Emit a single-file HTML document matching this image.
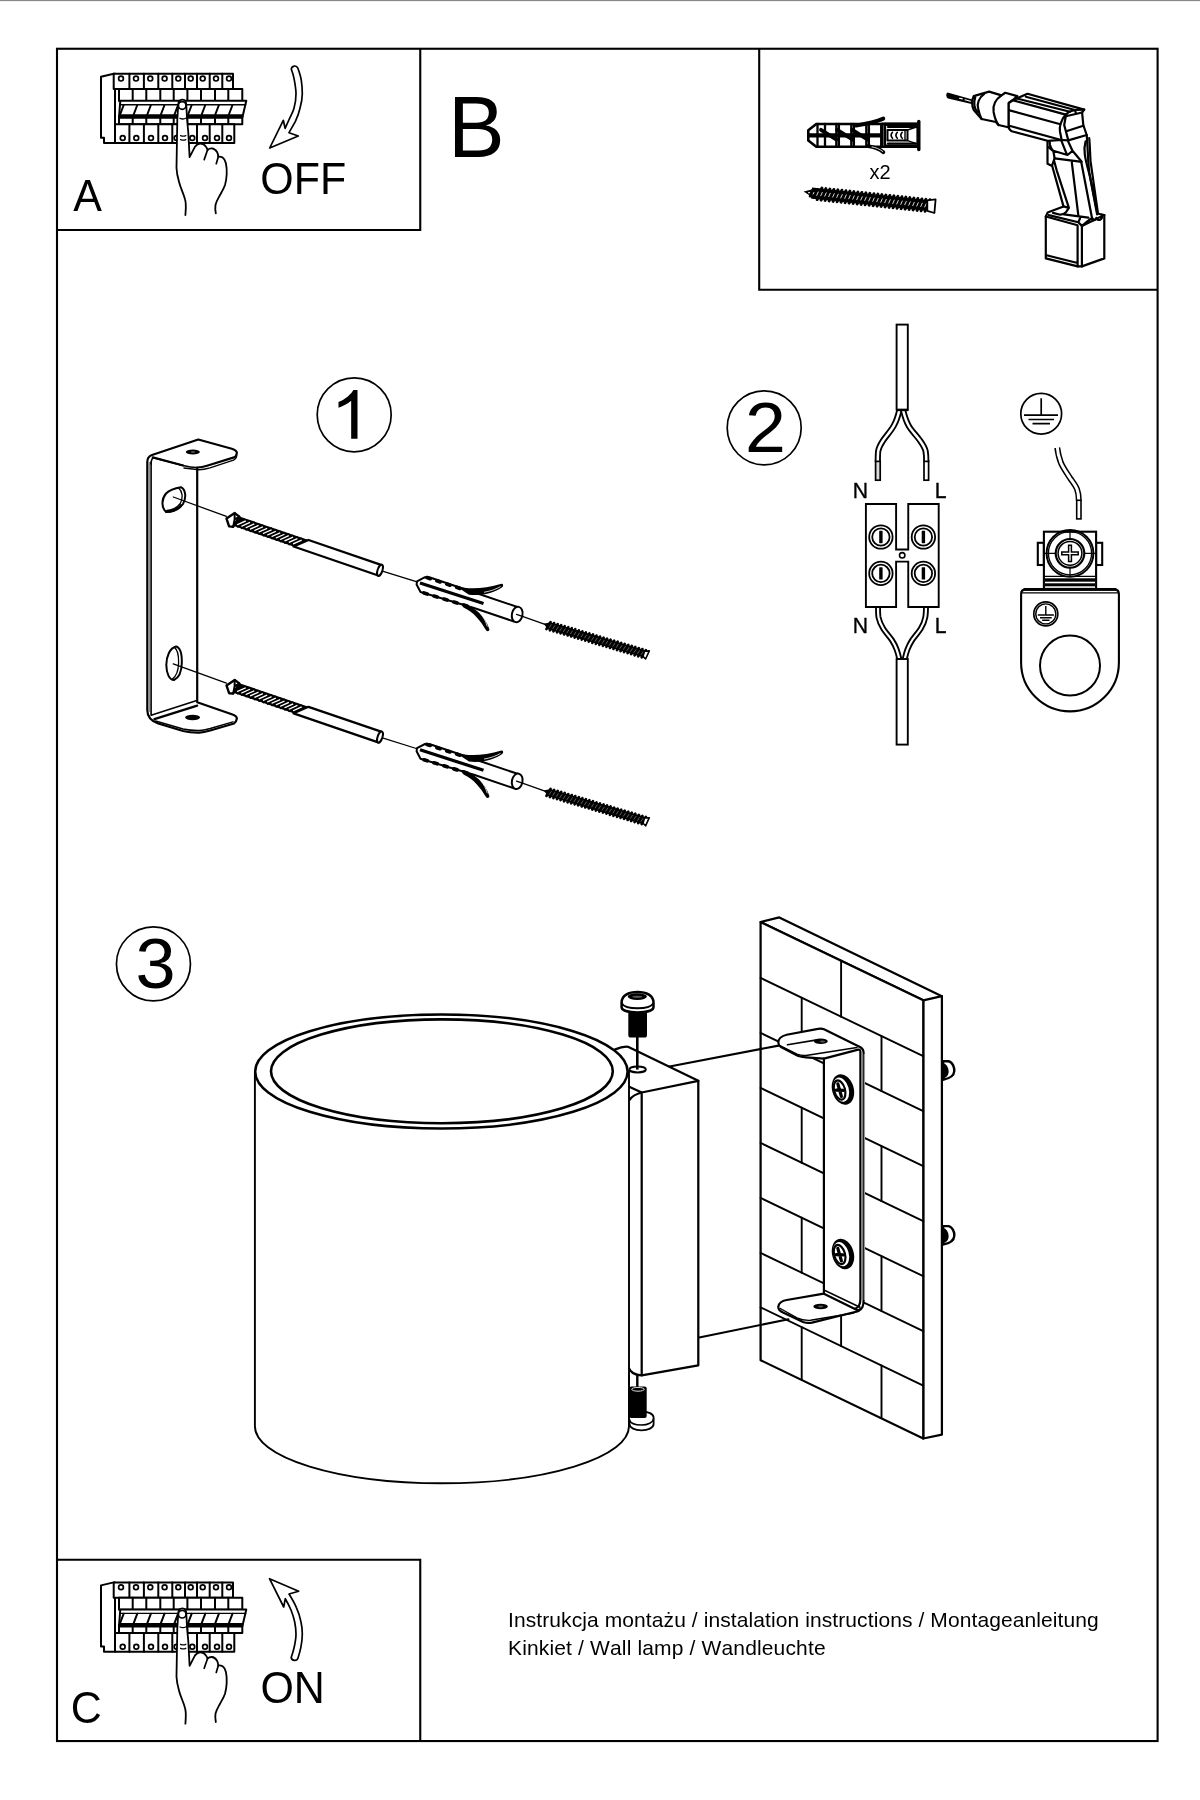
<!DOCTYPE html>
<html><head><meta charset="utf-8">
<style>
html,body{margin:0;padding:0;background:#fff;}
body{width:1200px;height:1800px;overflow:hidden;position:relative;font-family:"Liberation Sans",sans-serif;}
svg{position:absolute;left:0;top:0;will-change:transform;}
text{font-family:"Liberation Sans",sans-serif;fill:#000;font-kerning:none;}
.s{fill:none;stroke:#000;stroke-width:2;stroke-linejoin:round;stroke-linecap:round;}
.t{fill:none;stroke:#000;stroke-width:1.3;stroke-linejoin:round;stroke-linecap:round;}
.w{fill:#fff;stroke:#000;stroke-width:2;stroke-linejoin:round;stroke-linecap:round;}
.wt{fill:#fff;stroke:#000;stroke-width:1.3;stroke-linejoin:round;stroke-linecap:round;}
.k{fill:#000;stroke:none;}
</style></head><body>
<svg width="1200" height="1800" viewBox="0 0 1200 1800">
<rect x="0" y="0" width="1200" height="1800" fill="#fff"/>
<rect x="0" y="0" width="1200" height="1" fill="#84888a"/><rect x="0" y="1" width="1200" height="1" fill="#f1f1f1"/>
<!-- FRAME -->
<g id="frame" class="s" style="stroke-width:2.1;stroke-linejoin:miter;stroke-linecap:butt">
<rect x="57" y="48.75" width="1100.6" height="1692.3"/>
<path d="M57 230H420.25V48.75"/>
<path d="M759.2 48.75V289.75H1157.6"/>
<path d="M57 1559.75H420.25V1741"/>
</g>
<!-- TEXT -->
<g id="labels">
<text id="t1" letter-spacing="0.093" x="508" y="1626.5" font-size="21">Instrukcja montażu / instalation instructions / Montageanleitung</text>
<text id="t2" letter-spacing="0.15" x="508" y="1654.7" font-size="21">Kinkiet / Wall lamp / Wandleuchte</text>
</g>
<!--SECTION_A-->
<defs><g id="brk">
<path class="w" style="stroke-width:2" d="M113.7 73.7L101 76.7V137.7H104V143H115V73.7Z"/>
<rect class="w" style="stroke-width:2" x="113.7" y="73.7" width="119.3" height="15.3"/>
<path class="s" style="stroke-width:2" d="M129.4 73.7V89"/>
<path class="s" style="stroke-width:2" d="M143.9 73.7V89"/>
<path class="s" style="stroke-width:2" d="M158.3 73.7V89"/>
<path class="s" style="stroke-width:2" d="M172.3 73.7V89"/>
<path class="s" style="stroke-width:2" d="M185 73.7V89"/>
<path class="s" style="stroke-width:2" d="M197 73.7V89"/>
<path class="s" style="stroke-width:2" d="M209.7 73.7V89"/>
<path class="s" style="stroke-width:2" d="M222.3 73.7V89"/>
<circle class="s" style="stroke-width:1.7" cx="121" cy="78.6" r="2.4"/>
<circle class="s" style="stroke-width:1.7" cx="136" cy="78.6" r="2.4"/>
<circle class="s" style="stroke-width:1.7" cx="150.3" cy="78.6" r="2.4"/>
<circle class="s" style="stroke-width:1.7" cx="164.6" cy="78.6" r="2.4"/>
<circle class="s" style="stroke-width:1.7" cx="178.3" cy="78.6" r="2.4"/>
<circle class="s" style="stroke-width:1.7" cx="190.7" cy="78.6" r="2.4"/>
<circle class="s" style="stroke-width:1.7" cx="202.7" cy="78.6" r="2.4"/>
<circle class="s" style="stroke-width:1.7" cx="216" cy="78.6" r="2.4"/>
<circle class="s" style="stroke-width:1.7" cx="229" cy="78.6" r="2.4"/>
<rect class="w" style="stroke-width:2" x="119" y="89" width="123.3" height="12"/>
<path class="s" style="stroke-width:2" d="M132.7 89V101"/>
<path class="s" style="stroke-width:2" d="M146.3 89V101"/>
<path class="s" style="stroke-width:2" d="M160.3 89V101"/>
<path class="s" style="stroke-width:2" d="M173.7 89V101"/>
<path class="s" style="stroke-width:2" d="M187.4 89V101"/>
<path class="s" style="stroke-width:2" d="M201 89V101"/>
<path class="s" style="stroke-width:2" d="M215 89V101"/>
<path class="s" style="stroke-width:2" d="M228.3 89V101"/>
<rect class="w" style="stroke-width:2" x="119" y="116" width="123.3" height="8.3"/>
<path class="s" style="stroke-width:2" d="M132.7 116V124.3"/>
<path class="s" style="stroke-width:2" d="M146.3 116V124.3"/>
<path class="s" style="stroke-width:2" d="M160.3 116V124.3"/>
<path class="s" style="stroke-width:2" d="M173.7 116V124.3"/>
<path class="s" style="stroke-width:2" d="M187.4 116V124.3"/>
<path class="s" style="stroke-width:2" d="M201 116V124.3"/>
<path class="s" style="stroke-width:2" d="M215 116V124.3"/>
<path class="s" style="stroke-width:2" d="M228.3 116V124.3"/>
<rect class="w" style="stroke-width:2" x="115" y="124.3" width="119.3" height="18.7"/>
<path class="s" style="stroke-width:2" d="M129.4 124.3V143"/>
<path class="s" style="stroke-width:2" d="M143.9 124.3V143"/>
<path class="s" style="stroke-width:2" d="M158.3 124.3V143"/>
<path class="s" style="stroke-width:2" d="M172.3 124.3V143"/>
<path class="s" style="stroke-width:2" d="M186.5 124.3V143"/>
<path class="s" style="stroke-width:2" d="M197 124.3V143"/>
<path class="s" style="stroke-width:2" d="M209.7 124.3V143"/>
<path class="s" style="stroke-width:2" d="M222.3 124.3V143"/>
<circle class="s" style="stroke-width:1.7" cx="122.7" cy="138" r="2.4"/>
<circle class="s" style="stroke-width:1.7" cx="136.3" cy="138" r="2.4"/>
<circle class="s" style="stroke-width:1.7" cx="151" cy="138" r="2.4"/>
<circle class="s" style="stroke-width:1.7" cx="165" cy="138" r="2.4"/>
<circle class="s" style="stroke-width:1.7" cx="176.6" cy="138" r="2.4"/>
<circle class="s" style="stroke-width:1.7" cx="192.3" cy="138" r="2.4"/>
<circle class="s" style="stroke-width:1.7" cx="205" cy="138" r="2.4"/>
<circle class="s" style="stroke-width:1.7" cx="217" cy="138" r="2.4"/>
<circle class="s" style="stroke-width:1.7" cx="229" cy="138" r="2.4"/>
<path class="w" style="stroke-width:2" d="M120.3 100.8H246.3L242.3 117.7H119Z"/>
<path class="s" style="stroke-width:1.4" d="M120.8 104.7H245.6"/>
<path class="k" d="M119 114.2H243.3L242.3 118H119Z"/>
<path class="s" style="stroke-width:2" d="M123.7 105L120.1 114.5"/>
<path class="s" style="stroke-width:2" d="M137.3 105L133.7 114.5"/>
<path class="s" style="stroke-width:2" d="M150.9 105L147.3 114.5"/>
<path class="s" style="stroke-width:2" d="M164.5 105L160.9 114.5"/>
<path class="s" style="stroke-width:2" d="M178.1 105L174.5 114.5"/>
<path class="s" style="stroke-width:2" d="M191.7 105L188.1 114.5"/>
<path class="s" style="stroke-width:2" d="M205.3 105L201.7 114.5"/>
<path class="s" style="stroke-width:2" d="M218.9 105L215.3 114.5"/>
<path class="s" style="stroke-width:2" d="M232.5 105L228.9 114.5"/>
</g>
<g id="hand">
<path class="w" style="stroke-width:1.8" d="M185.4 215C185.8 208 186.5 204 185 199.2C183.5 193.5 180.6 188 179.2 182.5C177.6 177 176.7 174 176.5 168L177.3 120L178.2 105C178.3 101.5 180 99.6 182.4 99.6C184.8 99.6 186.2 101.5 186.3 105L187.1 120L188.3 132.5L189.6 157.1L195 146.7C196.6 144.6 198.3 143.6 200.5 143.7C203.2 143.9 204.8 145 206 146.8C206.8 147.9 207.3 148.9 207.5 150C208.8 148.7 210.2 148.2 211.9 148.3C214.2 148.5 215.8 150 216.9 151.8C217.8 153.3 218.2 155 218.3 156.7C219.8 156.5 221.3 156.8 222.6 157.6C224.6 159 225.4 161 225.9 163.3C226.7 167 226.9 170.5 226.7 174.2C226.5 178 226 181.6 225 185C223.8 188.6 221.8 191.8 220 195C218.2 198.3 216.2 201.4 215.5 205C215 207.8 215.3 210.6 215.8 213.3" />
<path class="s" style="stroke-width:1.7" d="M207.5 150L204.2 159.6M218.3 156.7L216.25 163.75"/>
<circle class="w" style="stroke-width:1.7" cx="182.2" cy="105.5" r="3.8"/>
<path class="s" style="stroke-width:1.3" d="M180 118.3Q183.3 119.8 186.2 118"/>
<path class="s" style="stroke-width:1.3" d="M180.6 135.6Q183.3 136.8 185.8 135.6M180.6 139.6Q183.3 140.8 185.8 139.6"/>
</g></defs>
<g id="secA">
<use href="#brk"/><use href="#hand"/>
<path class="w" style="stroke-width:1.7" d="M291.3 69.2C292.5 72.3 293.5 75.2 294 78.3C295 83.4 296 88.5 296 93.7C296 98.7 295.4 103.5 294 108.3C292.9 112 291 115.6 289.3 119L285.1 128.3L283.3 120.3L269.7 148L298.3 136L289 132.7L295.3 121.7C297.3 117.4 299 112.9 300 108.3C301.3 103.5 302.3 98.7 302.3 93.7C302.3 89.2 302 84.7 301.3 80.3C300.6 75.8 299.2 71.9 297.9 68.3A3.4 3.4 0 0 0 291.3 69.2Z"/>
<text transform="translate(73.13 210.93) scale(0.963 1)" font-size="44.6">A</text>
<text transform="translate(260.28 194.1) scale(0.963 1)" font-size="44.6">OFF</text>
<text transform="translate(447.9 157.0) scale(0.97 1)" font-size="87.6">B</text>
</g>
<g id="secC">
<use href="#brk" transform="translate(0,1508.7)"/><use href="#hand" transform="translate(0,1508.7)"/>
<path class="w" style="stroke-width:1.7" d="M269.5 1578.7L298.7 1591.2L289 1594C291.7 1598.3 294.3 1602.7 296.3 1607.3C298.5 1612 300 1617 301 1622C301.9 1626 302.3 1630 302.3 1634C302.3 1638.3 301.8 1642.5 301 1646.7C300.3 1650.5 299.2 1654.3 298 1658A3.5 3.5 0 0 1 291.2 1657.5C292.4 1654 293.5 1650.4 294.3 1646.7C295.2 1642.5 296 1638.3 296 1634C296 1630 295.5 1626 294.7 1622C293.8 1618 292.6 1613.9 291 1610C289.4 1606.1 287.4 1602.3 285.3 1598.7L283.7 1607Z"/>
<text transform="translate(70.86 1722.6) scale(0.963 1)" font-size="44.6">C</text>
<text transform="translate(260.43 1702.84) scale(0.963 1)" font-size="44.6">ON</text>
</g>
<!--SECTION_TOOLS-->
<g id="secT">
<g id="plug">
<path class="w" style="stroke-width:2.6" d="M808.3 130.3L816.3 124H882.5V146.8H816.3L808.3 140.5Z"/>
<path class="s" style="stroke-width:3.9" d="M856 125.6C866 124 874 122.7 883.3 118.6"/>
<path class="s" style="stroke-width:3.8" d="M868 146.2C874 147 879 148.8 883.4 152.2"/>
<path d="M872 146.9C876 147.6 879.5 149 882.8 151.5" fill="none" stroke="#fff" stroke-width="0.85" stroke-linecap="round"/>
<rect class="w" style="stroke-width:2.2" x="882.5" y="123.6" width="35" height="23.4"/>
<path class="s" style="stroke-width:3.2" d="M885 124.4H917M885 146.2H917"/>
<path class="s" style="stroke-width:3.4" d="M918.8 121.5V149.5"/>
<rect class="w" style="stroke-width:2" x="887.5" y="130" width="20" height="10.6"/>
<path class="s" style="stroke-width:1.4" d="M907.5 130L916.5 127M907.5 140.6L916.5 143.6M905 130V140.6"/>
<path class="s" style="stroke-width:1.6" d="M892.5 132.3Q889.7 135.3 892.5 138.3M897.3 132.3Q894.5 135.3 897.3 138.3M902.2 132.3Q899.4 135.3 902.2 138.3"/>
<path class="s" style="stroke-width:2.2" d="M888 127H916M888 143.6H916" />
<path class="s" style="stroke-width:2.3" d="M817.5 124V146.8M825 124V146.8"/>
<path class="s" style="stroke-width:2.3" d="M836.3 124V146.8M838.9 124V146.8"/>
<path class="s" style="stroke-width:2.3" d="M851.3 124V146.8M853.9 124V146.8"/>
<path class="s" style="stroke-width:2.3" d="M866.3 124V146.8M868.9 124V146.8"/>
<path class="s" style="stroke-width:2.3" d="M881.2 124V146.8M885 124V146.8"/>
<path class="s" style="stroke-width:4.2;stroke-linecap:butt" d="M809 135.3H880.5"/>
<path class="s" style="stroke-width:3.8" d="M821.0 129.8L836.5 139.6"/>
<path class="s" style="stroke-width:3.8" d="M837.2 129.8L852.7 139.6"/>
<path class="s" style="stroke-width:3.8" d="M852.2 129.8L867.7 139.6"/>
</g>
<text x="869.54" y="178.9" font-size="20">x2</text>
<g id="screw">
<path class="k" d="M803.6 191.6L811.8 189.4L811.1 196.6Z"/>
<path d="M808.2 192.6L811.8 193" stroke="#fff" stroke-width="1.2" fill="none"/>
<path d="M811.5 193.0L927.5 205.5" stroke="#000" stroke-width="11.2" fill="none"/>
<path d="M812.8 189.9L810.2 196.1" stroke="#000" stroke-width="2.9" stroke-linecap="round" fill="none"/>
<path d="M817.2 189.4L813.8 197.5" stroke="#000" stroke-width="2.9" stroke-linecap="round" fill="none"/>
<path d="M821.9 188.1L817.1 199.6" stroke="#000" stroke-width="2.9" stroke-linecap="round" fill="none"/>
<path d="M825.9 188.5L821.1 200.1" stroke="#000" stroke-width="2.9" stroke-linecap="round" fill="none"/>
<path d="M829.9 189.0L825.1 200.5" stroke="#000" stroke-width="2.9" stroke-linecap="round" fill="none"/>
<path d="M833.9 189.4L829.1 200.9" stroke="#000" stroke-width="2.9" stroke-linecap="round" fill="none"/>
<path d="M837.9 189.8L833.1 201.4" stroke="#000" stroke-width="2.9" stroke-linecap="round" fill="none"/>
<path d="M841.9 190.2L837.1 201.8" stroke="#000" stroke-width="2.9" stroke-linecap="round" fill="none"/>
<path d="M845.9 190.7L841.1 202.2" stroke="#000" stroke-width="2.9" stroke-linecap="round" fill="none"/>
<path d="M849.9 191.1L845.1 202.7" stroke="#000" stroke-width="2.9" stroke-linecap="round" fill="none"/>
<path d="M853.9 191.5L849.1 203.1" stroke="#000" stroke-width="2.9" stroke-linecap="round" fill="none"/>
<path d="M857.9 192.0L853.1 203.5" stroke="#000" stroke-width="2.9" stroke-linecap="round" fill="none"/>
<path d="M861.9 192.4L857.1 203.9" stroke="#000" stroke-width="2.9" stroke-linecap="round" fill="none"/>
<path d="M865.9 192.8L861.1 204.4" stroke="#000" stroke-width="2.9" stroke-linecap="round" fill="none"/>
<path d="M869.9 193.3L865.1 204.8" stroke="#000" stroke-width="2.9" stroke-linecap="round" fill="none"/>
<path d="M873.9 193.7L869.1 205.2" stroke="#000" stroke-width="2.9" stroke-linecap="round" fill="none"/>
<path d="M877.9 194.1L873.1 205.7" stroke="#000" stroke-width="2.9" stroke-linecap="round" fill="none"/>
<path d="M881.9 194.6L877.1 206.1" stroke="#000" stroke-width="2.9" stroke-linecap="round" fill="none"/>
<path d="M885.9 195.0L881.1 206.5" stroke="#000" stroke-width="2.9" stroke-linecap="round" fill="none"/>
<path d="M889.9 195.4L885.1 207.0" stroke="#000" stroke-width="2.9" stroke-linecap="round" fill="none"/>
<path d="M893.9 195.8L889.1 207.4" stroke="#000" stroke-width="2.9" stroke-linecap="round" fill="none"/>
<path d="M897.9 196.3L893.1 207.8" stroke="#000" stroke-width="2.9" stroke-linecap="round" fill="none"/>
<path d="M901.9 196.7L897.1 208.3" stroke="#000" stroke-width="2.9" stroke-linecap="round" fill="none"/>
<path d="M905.9 197.1L901.1 208.7" stroke="#000" stroke-width="2.9" stroke-linecap="round" fill="none"/>
<path d="M909.9 197.6L905.1 209.1" stroke="#000" stroke-width="2.9" stroke-linecap="round" fill="none"/>
<path d="M913.9 198.0L909.1 209.5" stroke="#000" stroke-width="2.9" stroke-linecap="round" fill="none"/>
<path d="M917.9 198.4L913.1 210.0" stroke="#000" stroke-width="2.9" stroke-linecap="round" fill="none"/>
<path d="M921.9 198.9L917.1 210.4" stroke="#000" stroke-width="2.9" stroke-linecap="round" fill="none"/>
<path d="M925.9 199.3L921.1 210.8" stroke="#000" stroke-width="2.9" stroke-linecap="round" fill="none"/>
<path d="M929.9 199.7L925.1 211.3" stroke="#000" stroke-width="2.9" stroke-linecap="round" fill="none"/>
<path d="M814.0 192.1L813.0 194.4" stroke="#fff" stroke-width="0.85" fill="none"/>
<path d="M818.4 191.6L816.6 195.7" stroke="#fff" stroke-width="0.85" fill="none"/>
<path d="M822.4 192.1L820.6 196.1" stroke="#fff" stroke-width="0.85" fill="none"/>
<path d="M826.4 192.5L824.6 196.5" stroke="#fff" stroke-width="0.85" fill="none"/>
<path d="M830.4 192.9L828.6 197.0" stroke="#fff" stroke-width="0.85" fill="none"/>
<path d="M834.4 193.4L832.6 197.4" stroke="#fff" stroke-width="0.85" fill="none"/>
<path d="M838.4 193.8L836.6 197.8" stroke="#fff" stroke-width="0.85" fill="none"/>
<path d="M842.4 194.2L840.6 198.3" stroke="#fff" stroke-width="0.85" fill="none"/>
<path d="M846.4 194.6L844.6 198.7" stroke="#fff" stroke-width="0.85" fill="none"/>
<path d="M850.4 195.1L848.6 199.1" stroke="#fff" stroke-width="0.85" fill="none"/>
<path d="M854.4 195.5L852.6 199.5" stroke="#fff" stroke-width="0.85" fill="none"/>
<path d="M858.4 195.9L856.6 200.0" stroke="#fff" stroke-width="0.85" fill="none"/>
<path d="M862.4 196.4L860.6 200.4" stroke="#fff" stroke-width="0.85" fill="none"/>
<path d="M866.4 196.8L864.6 200.8" stroke="#fff" stroke-width="0.85" fill="none"/>
<path d="M870.4 197.2L868.6 201.3" stroke="#fff" stroke-width="0.85" fill="none"/>
<path d="M874.4 197.7L872.6 201.7" stroke="#fff" stroke-width="0.85" fill="none"/>
<path d="M878.4 198.1L876.6 202.1" stroke="#fff" stroke-width="0.85" fill="none"/>
<path d="M882.4 198.5L880.6 202.6" stroke="#fff" stroke-width="0.85" fill="none"/>
<path d="M886.4 199.0L884.6 203.0" stroke="#fff" stroke-width="0.85" fill="none"/>
<path d="M890.4 199.4L888.6 203.4" stroke="#fff" stroke-width="0.85" fill="none"/>
<path d="M894.4 199.8L892.6 203.9" stroke="#fff" stroke-width="0.85" fill="none"/>
<path d="M898.4 200.2L896.6 204.3" stroke="#fff" stroke-width="0.85" fill="none"/>
<path d="M902.4 200.7L900.6 204.7" stroke="#fff" stroke-width="0.85" fill="none"/>
<path d="M906.4 201.1L904.6 205.1" stroke="#fff" stroke-width="0.85" fill="none"/>
<path d="M910.4 201.5L908.6 205.6" stroke="#fff" stroke-width="0.85" fill="none"/>
<path d="M914.4 202.0L912.6 206.0" stroke="#fff" stroke-width="0.85" fill="none"/>
<path d="M918.4 202.4L916.6 206.4" stroke="#fff" stroke-width="0.85" fill="none"/>
<path d="M922.4 202.8L920.6 206.9" stroke="#fff" stroke-width="0.85" fill="none"/>
<path d="M926.4 203.3L924.6 207.3" stroke="#fff" stroke-width="0.85" fill="none"/>
<path class="w" style="stroke-width:1.8" d="M927.3 200.3L935.6 199.4L934.4 213L927.3 210.8Z"/>
</g>
<g id="drill">
<path class="k" d="M947.6 92.6C945.6 93.4 945.9 97.6 948 98.6L971.5 104L972.3 99.6Z"/>
<path d="M959.5 98.2L962.3 98.9M965 99.7L970.5 101.3" stroke="#fff" stroke-width="1.1" fill="none" stroke-linecap="round"/>
<path class="w" style="stroke-width:2.2" d="M1047.5 137.5V163.8L1052.2 166L1063.5 206.4L1047.6 212.6L1045.8 216.5V258.4L1077.6 266.4H1081.9L1104.3 258.4V215.1L1097.5 213.5L1089.9 176.1C1088 168 1088 150 1086.7 135L1070 120Z"/>
<path class="s" style="stroke-width:2.2" d="M1045.8 216.5L1077.6 225.2V266.4M1081.9 266.4V225.9L1104.3 215.1M1046.5 255.2L1077.6 263"/>
<path class="s" style="stroke-width:2.2" d="M1048.7 215.1L1078.3 222.3L1081.9 225.9M1078.3 222.3L1080 218.5M1081.9 225.9L1089.9 219.4C1091 218.8 1091.8 218.6 1092.8 218.7M1063.9 214.3L1088.4 217.6"/>
<path class="s" style="stroke-width:2.2" d="M1092 218L1092.8 219.7C1094.5 220.6 1096 219.8 1096.4 217.8C1097 219.5 1098.6 220.6 1100.4 219.6C1101.8 218.7 1102.3 217.2 1101.9 215.4"/>
<path class="s" style="stroke-width:2.2" d="M1054.1 160.9L1056.7 170.3L1068.9 207.9L1066 212.2C1064.5 213.8 1062.5 214.6 1060.3 214.7L1053 212.9M1063.5 206.4L1068.9 207.9"/>
<path class="s" style="stroke-width:2.2" d="M1071.8 162.4L1078.3 215.1M1081.2 161.7L1092 218M1054.6 158.3L1080 161.7"/>
<path class="s" style="stroke-width:2.2" d="M1085.6 141.4C1084.3 146 1084.2 150 1084.8 154.4C1085.8 162 1088 169 1089.9 176.1L1097.1 214.4M1089.2 138C1090 146 1090 154 1090.6 161.7L1097.8 212.2"/>
<path class="s" style="stroke-width:2.2" d="M1049.2 138.3L1050 145C1050.6 147.5 1051.7 149.3 1053.3 150.8L1067.5 155L1072.5 150.8L1068.3 141.7M1061.25 140.4L1066.7 154.2M1053.3 150.8L1054.6 158.3L1052 165.6M1072.5 150.8L1081.7 161.7M1048.7 147.2L1052.4 150.5"/>
<path class="w" style="stroke-width:2.2" d="M973.75 96.1L989.1 91.6L1001.5 95.4L1005.25 92.75L1017.25 96.1L1013 100L1008.75 103V126.7L1008.25 127.25L998.5 125L995.9 122L981.6 119L973.75 110C971.6 106 971.6 100 973.75 96.1Z"/>
<path class="s" style="stroke-width:2.2" d="M984.25 93.9C979 97.5 976.5 104 978.25 109C979 113 980 116 981.6 119M975.2 97.5C973.5 102 974 107 977 112"/>
<path class="s" style="stroke-width:2.2" d="M1001.5 95.4C995.5 99.5 992.5 105 993.6 112C994.5 117 996 121.5 998.5 125"/>
<path class="w" style="stroke-width:2.2" d="M1008.75 103L1013.3 100L1027.5 93.75L1084.2 109.6L1082.1 112.5L1083.3 125L1086.7 135L1068.3 140.4L1061.7 140L1047.5 140.8L1011.7 131.25C1009.6 130 1008.75 128.5 1008.75 126.7Z"/>
<path class="s" style="stroke-width:2.2" d="M1025.8 96.7L1075 110M1017.9 98.75L1070 111.7M1013.3 100.4L1065.8 114.6M1009.6 110.4L1060.4 124.2M1009.2 125.8L1061.25 140"/>
<path class="s" style="stroke-width:2.2" d="M1065.8 114.6L1069.2 111.7L1075 110L1084.2 109.6M1065.8 116.25L1082.1 112.5M1066.25 131.25L1083.3 125.8M1075 110L1076 113.6"/>
<path class="s" style="stroke-width:2.2" d="M1065.8 114.6C1063 117.5 1061.5 120.5 1060.4 124.2C1059.6 127 1059.7 129.5 1060 131.7L1061.7 140M1065.8 116.25L1064.2 125L1068.3 140.4"/>
</g>
</g>
<!--SECTION_1-->
<g id="sec1">
<circle class="s" style="stroke-width:1.7" cx="354.2" cy="414.8" r="37"/>
<path class="k" transform="translate(330.65 438.75) scale(0.0352 -0.033203)" d="M763 0H583V1147Q518 1085 412.500 1023Q307 961 223 930V1104Q374 1175 487 1276Q600 1377 647 1472H763Z"/>
<g id="bracket">
<path class="w" style="stroke-width:2.2" d="M147.3 462C147.3 458 149 456 152 455L198.3 439.5L231.8 448.7C235.5 449.8 237.3 451.5 236.7 453.6C236.4 455.5 235.5 456.8 234 457.4L207 465.8C203 467 201.5 467.3 197.2 467.5V702.3L231.8 714.3C235.5 715.5 237.3 717 236.7 719.1C236.4 721.3 235.5 722.6 234 723.5L210.2 730.5C206 731.8 203 732.6 199.3 732.7C193 732.8 188 732.3 183.1 731L158.2 723.5C151 721 147.3 717 147.3 710Z"/>
<path class="s" style="stroke-width:1.6" d="M151.1 464C151.1 460.5 151.8 458.6 153.5 457.8L183.1 465.5C188 466.8 193 467.6 197.2 467.5"/>
<path class="s" style="stroke-width:1.6" d="M151.1 462V715.3L196.8 700.6"/>
<path d="M149.2 462V712" stroke="#777" stroke-width="1.2" fill="none"/>
<path class="s" style="stroke-width:2.2" d="M152.75 457.4L183.1 465.5"/>
<path class="s" style="stroke-width:1.4" d="M184 468L199 469.8C203 469.7 206 469 210 467.9L233.5 460.2C235.5 459.2 236.6 457.5 236.8 455"/>
<ellipse cx="192.8" cy="452" rx="7" ry="2.5" fill="#000"/><ellipse cx="193" cy="452" rx="2.4" ry="0.8" fill="#666"/>
<path class="s" style="stroke-width:2.2" d="M154.4 719.1L197.2 705.6"/>
<path class="s" style="stroke-width:1.4" d="M155.5 721L183.1 729C189 730.3 194 730.6 199.3 730.5C203 730.3 206 729.6 210.2 728.5L233 721.8"/>
<ellipse cx="192.6" cy="717.5" rx="7.4" ry="2.7" fill="#000"/>
<path class="w" style="stroke-width:2" d="M181 487.2C185.5 489.5 186.8 497 183 504C179 509.5 173 512 166 512C161 507 161.5 499 166 493.5C170 489.5 176 488 181 487.2Z"/>
<path class="s" style="stroke-width:1.3" d="M178.8 488.3C182.5 491.5 183.3 497.5 180.3 503.5C177 508 172 510 166.8 510.5"/>
<path class="s" style="stroke-width:2.6" d="M167 511.5C172.5 511.3 177.5 509.3 180.8 505.5"/>
<path class="w" style="stroke-width:2" d="M176 646.5C180.5 647.5 182 655 181.8 663C181.6 671 179.5 677.5 174 680C169.5 680 166.5 674 166.3 665C166.3 656 170 648 176 646.5Z"/>
<path class="s" style="stroke-width:1.3" d="M174.6 647.6C178 650 178.7 656 178.6 663C178.4 670 176.6 676 172.2 679.3"/>
</g>
<g id="set1">
<path class="s" style="stroke-width:1.3" d="M173.3 497L226.4 516.4M380 570.3L416.3 581.7M522.4 616.3L545 624.3"/>
<path class="k" stroke="#000" stroke-width="2" stroke-linejoin="round" d="M239.4 516.4L308.5 540.0L293.6 546.5L233.9 526.1Z"/>
<path d="M237.2 525.0L245.8 521.2" stroke="#fff" stroke-width="1.9" fill="none"/>
<path d="M237.7 526.5L249.7 521.2" stroke="#000" stroke-width="2.3" stroke-linecap="round" fill="none"/>
<path d="M241.5 526.5L250.1 522.7" stroke="#fff" stroke-width="1.9" fill="none"/>
<path d="M242.0 528.0L254.0 522.6" stroke="#000" stroke-width="2.3" stroke-linecap="round" fill="none"/>
<path d="M245.8 528.0L254.4 524.2" stroke="#fff" stroke-width="1.9" fill="none"/>
<path d="M246.3 529.5L258.3 524.1" stroke="#000" stroke-width="2.3" stroke-linecap="round" fill="none"/>
<path d="M250.2 529.4L258.7 525.6" stroke="#fff" stroke-width="1.9" fill="none"/>
<path d="M250.6 531.0L262.6 525.6" stroke="#000" stroke-width="2.3" stroke-linecap="round" fill="none"/>
<path d="M254.5 530.9L263.0 527.1" stroke="#fff" stroke-width="1.9" fill="none"/>
<path d="M254.9 532.4L266.9 527.1" stroke="#000" stroke-width="2.3" stroke-linecap="round" fill="none"/>
<path d="M258.8 532.4L267.3 528.6" stroke="#fff" stroke-width="1.9" fill="none"/>
<path d="M259.2 533.9L271.2 528.5" stroke="#000" stroke-width="2.3" stroke-linecap="round" fill="none"/>
<path d="M263.1 533.9L271.7 530.0" stroke="#fff" stroke-width="1.9" fill="none"/>
<path d="M263.5 535.4L275.5 530.0" stroke="#000" stroke-width="2.3" stroke-linecap="round" fill="none"/>
<path d="M267.4 535.3L276.0 531.5" stroke="#fff" stroke-width="1.9" fill="none"/>
<path d="M267.8 536.9L279.8 531.5" stroke="#000" stroke-width="2.3" stroke-linecap="round" fill="none"/>
<path d="M271.7 536.8L280.3 533.0" stroke="#fff" stroke-width="1.9" fill="none"/>
<path d="M272.1 538.3L284.2 533.0" stroke="#000" stroke-width="2.3" stroke-linecap="round" fill="none"/>
<path d="M276.0 538.3L284.6 534.5" stroke="#fff" stroke-width="1.9" fill="none"/>
<path d="M276.4 539.8L288.5 534.4" stroke="#000" stroke-width="2.3" stroke-linecap="round" fill="none"/>
<path d="M280.3 539.8L288.9 535.9" stroke="#fff" stroke-width="1.9" fill="none"/>
<path d="M280.7 541.3L292.8 535.9" stroke="#000" stroke-width="2.3" stroke-linecap="round" fill="none"/>
<path d="M284.6 541.2L293.2 537.4" stroke="#fff" stroke-width="1.9" fill="none"/>
<path d="M285.0 542.7L297.1 537.4" stroke="#000" stroke-width="2.3" stroke-linecap="round" fill="none"/>
<path d="M288.9 542.7L297.5 538.9" stroke="#fff" stroke-width="1.9" fill="none"/>
<path d="M289.3 544.2L301.4 538.8" stroke="#000" stroke-width="2.3" stroke-linecap="round" fill="none"/>
<path d="M293.2 544.2L301.8 540.4" stroke="#fff" stroke-width="1.9" fill="none"/>
<path d="M293.6 545.7L305.7 540.3" stroke="#000" stroke-width="2.3" stroke-linecap="round" fill="none"/>
<path class="w" style="stroke-width:2.3" d="M308.5 540.0L381.8 565.1L378.2 575.5L293.6 546.5Z"/>
<ellipse class="w" style="stroke-width:2" cx="380.0" cy="570.3" rx="2.4" ry="5.8" transform="rotate(18.9 380.0 570.3)"/>
<path class="w" style="stroke-width:2.4" d="M226.5 518.6L234.7 513.1L239.3 516.6L233.2 526.7L229.1 526.4Z"/>
<path class="s" style="stroke-width:2" d="M234.7 513.1L234.6 519.5L233.2 526.7M234.6 519.5L239.3 516.6"/>
<path class="w" style="stroke-width:2" d="M417 581.3L425 577.2L430 577.5L482 595L517.5 607L514 621.5L474 608L420.5 592L416.6 584.5Z"/>
<path d="M427 577.6L474 593" stroke="#000" stroke-width="3.7" stroke-dasharray="3.4 7" stroke-linecap="round" fill="none"/>
<path d="M424 593L471 607.3" stroke="#000" stroke-width="3.7" stroke-dasharray="3.4 7" stroke-linecap="round" fill="none"/>
<path class="s" style="stroke-width:3.2;stroke-linecap:butt" d="M420 583L483.5 603.5"/>
<ellipse class="w" style="stroke-width:2" cx="517.2" cy="614.5" rx="5.3" ry="7.8" transform="rotate(12 517.2 614.5)"/>
<path class="s" style="stroke-width:1.3" d="M516.5 614.3L522.4 616.3"/>
<path class="k" d="M457 586.8C468 589 484 589.4 501.5 583.8C503.3 583.5 503.6 585.8 502.5 587C495 592.2 484 596.3 469 594.8Z"/>
<path d="M484 592.3C491 591 496.5 589 500.5 586.6" stroke="#fff" stroke-width="0.8" fill="none"/>
<path class="k" d="M462 603C474 606.5 485 615.5 489.4 629.2C489.6 631.4 487 631.8 486 630.2C480.5 620.8 474 612.6 463.5 607.6Z"/>
<path d="M480.5 613.5C484 617.8 486 622 487.3 626.5" stroke="#fff" stroke-width="0.8" fill="none"/>
<path class="k" d="M543.6 623.8L549.4 622.5L547.6 628.7Z"/>
<path d="M548.5 625.6L643.8 653.7" stroke="#000" stroke-width="7.6" fill="none"/>
<path d="M550.6 622.0L546.4 629.2" stroke="#000" stroke-width="2.6" stroke-linecap="round" fill="none"/>
<path d="M554.1 623.0L549.9 630.3" stroke="#000" stroke-width="2.6" stroke-linecap="round" fill="none"/>
<path d="M557.7 624.0L553.4 631.3" stroke="#000" stroke-width="2.6" stroke-linecap="round" fill="none"/>
<path d="M561.2 625.1L557.0 632.4" stroke="#000" stroke-width="2.6" stroke-linecap="round" fill="none"/>
<path d="M564.7 626.1L560.5 633.4" stroke="#000" stroke-width="2.6" stroke-linecap="round" fill="none"/>
<path d="M568.3 627.2L564.0 634.5" stroke="#000" stroke-width="2.6" stroke-linecap="round" fill="none"/>
<path d="M571.8 628.2L567.6 635.5" stroke="#000" stroke-width="2.6" stroke-linecap="round" fill="none"/>
<path d="M575.3 629.2L571.1 636.5" stroke="#000" stroke-width="2.6" stroke-linecap="round" fill="none"/>
<path d="M578.9 630.3L574.6 637.6" stroke="#000" stroke-width="2.6" stroke-linecap="round" fill="none"/>
<path d="M582.4 631.3L578.1 638.6" stroke="#000" stroke-width="2.6" stroke-linecap="round" fill="none"/>
<path d="M585.9 632.4L581.7 639.7" stroke="#000" stroke-width="2.6" stroke-linecap="round" fill="none"/>
<path d="M589.4 633.4L585.2 640.7" stroke="#000" stroke-width="2.6" stroke-linecap="round" fill="none"/>
<path d="M593.0 634.4L588.7 641.7" stroke="#000" stroke-width="2.6" stroke-linecap="round" fill="none"/>
<path d="M596.5 635.5L592.3 642.8" stroke="#000" stroke-width="2.6" stroke-linecap="round" fill="none"/>
<path d="M600.0 636.5L595.8 643.8" stroke="#000" stroke-width="2.6" stroke-linecap="round" fill="none"/>
<path d="M603.6 637.6L599.3 644.9" stroke="#000" stroke-width="2.6" stroke-linecap="round" fill="none"/>
<path d="M607.1 638.6L602.9 645.9" stroke="#000" stroke-width="2.6" stroke-linecap="round" fill="none"/>
<path d="M610.6 639.6L606.4 646.9" stroke="#000" stroke-width="2.6" stroke-linecap="round" fill="none"/>
<path d="M614.2 640.7L609.9 648.0" stroke="#000" stroke-width="2.6" stroke-linecap="round" fill="none"/>
<path d="M617.7 641.7L613.4 649.0" stroke="#000" stroke-width="2.6" stroke-linecap="round" fill="none"/>
<path d="M621.2 642.8L617.0 650.1" stroke="#000" stroke-width="2.6" stroke-linecap="round" fill="none"/>
<path d="M624.7 643.8L620.5 651.1" stroke="#000" stroke-width="2.6" stroke-linecap="round" fill="none"/>
<path d="M628.3 644.8L624.0 652.1" stroke="#000" stroke-width="2.6" stroke-linecap="round" fill="none"/>
<path d="M631.8 645.9L627.6 653.2" stroke="#000" stroke-width="2.6" stroke-linecap="round" fill="none"/>
<path d="M635.3 646.9L631.1 654.2" stroke="#000" stroke-width="2.6" stroke-linecap="round" fill="none"/>
<path d="M638.9 648.0L634.6 655.3" stroke="#000" stroke-width="2.6" stroke-linecap="round" fill="none"/>
<path d="M642.4 649.0L638.2 656.3" stroke="#000" stroke-width="2.6" stroke-linecap="round" fill="none"/>
<path d="M645.9 650.1L641.7 657.3" stroke="#000" stroke-width="2.6" stroke-linecap="round" fill="none"/>
<path d="M551.4 624.4L549.1 627.9" stroke="#999" stroke-width="0.6" fill="none"/>
<path d="M554.9 625.4L552.7 628.9" stroke="#999" stroke-width="0.6" fill="none"/>
<path d="M558.5 626.5L556.2 630.0" stroke="#999" stroke-width="0.6" fill="none"/>
<path d="M562.0 627.5L559.7 631.0" stroke="#999" stroke-width="0.6" fill="none"/>
<path d="M565.5 628.5L563.2 632.0" stroke="#999" stroke-width="0.6" fill="none"/>
<path d="M569.1 629.6L566.8 633.1" stroke="#999" stroke-width="0.6" fill="none"/>
<path d="M572.6 630.6L570.3 634.1" stroke="#999" stroke-width="0.6" fill="none"/>
<path d="M576.1 631.7L573.8 635.2" stroke="#999" stroke-width="0.6" fill="none"/>
<path d="M579.6 632.7L577.4 636.2" stroke="#999" stroke-width="0.6" fill="none"/>
<path d="M583.2 633.7L580.9 637.2" stroke="#999" stroke-width="0.6" fill="none"/>
<path d="M586.7 634.8L584.4 638.3" stroke="#999" stroke-width="0.6" fill="none"/>
<path d="M590.2 635.8L587.9 639.3" stroke="#999" stroke-width="0.6" fill="none"/>
<path d="M593.8 636.9L591.5 640.4" stroke="#999" stroke-width="0.6" fill="none"/>
<path d="M597.3 637.9L595.0 641.4" stroke="#999" stroke-width="0.6" fill="none"/>
<path d="M600.8 638.9L598.5 642.4" stroke="#999" stroke-width="0.6" fill="none"/>
<path d="M604.4 640.0L602.1 643.5" stroke="#999" stroke-width="0.6" fill="none"/>
<path d="M607.9 641.0L605.6 644.5" stroke="#999" stroke-width="0.6" fill="none"/>
<path d="M611.4 642.1L609.1 645.6" stroke="#999" stroke-width="0.6" fill="none"/>
<path d="M614.9 643.1L612.7 646.6" stroke="#999" stroke-width="0.6" fill="none"/>
<path d="M618.5 644.1L616.2 647.6" stroke="#999" stroke-width="0.6" fill="none"/>
<path d="M622.0 645.2L619.7 648.7" stroke="#999" stroke-width="0.6" fill="none"/>
<path d="M625.5 646.2L623.2 649.7" stroke="#999" stroke-width="0.6" fill="none"/>
<path d="M629.1 647.3L626.8 650.8" stroke="#999" stroke-width="0.6" fill="none"/>
<path d="M632.6 648.3L630.3 651.8" stroke="#999" stroke-width="0.6" fill="none"/>
<path d="M636.1 649.3L633.8 652.8" stroke="#999" stroke-width="0.6" fill="none"/>
<path d="M639.6 650.4L637.4 653.9" stroke="#999" stroke-width="0.6" fill="none"/>
<path d="M643.2 651.4L640.9 654.9" stroke="#999" stroke-width="0.6" fill="none"/>
<path class="w" style="stroke-width:1.6" d="M644.5 651.2L649.3 650.9L645.6 659.0L643.0 656.4Z"/>
</g>
<use href="#set1" transform="translate(0,166.8)"/>
</g>
<!--SECTION_2-->
<g id="sec2">
<circle class="s" style="stroke-width:1.7" cx="764.2" cy="427.85" r="37"/>
<text transform="translate(745.05 452.12) scale(1.05 1)" font-size="70">2</text>
<rect class="w" style="stroke-width:1.9;stroke-linejoin:miter" x="896.6" y="324.6" width="11.2" height="85"/>
<path d="M899.3 410.5C898 416 896.5 421 893.6 426C890.5 431.5 886 436 882.6 441.2C880.5 444.5 878.8 447.5 878.2 451.1C877.8 454.5 877.8 458 877.8 462" fill="none" stroke="#000" stroke-width="6.2" stroke-linecap="butt"/><path d="M899.3 410.5C898 416 896.5 421 893.6 426C890.5 431.5 886 436 882.6 441.2C880.5 444.5 878.8 447.5 878.2 451.1C877.8 454.5 877.8 458 877.8 462" fill="none" stroke="#fff" stroke-width="2.5" stroke-linecap="butt"/>
<path d="M903.2 410.5C904.5 416 906 421 908.8 426C912 431.5 917 436 920.5 441.2C922.8 444.5 924.8 447.5 925.6 451.1C926.2 454.5 926.3 458 926.3 462" fill="none" stroke="#000" stroke-width="6.2" stroke-linecap="butt"/><path d="M903.2 410.5C904.5 416 906 421 908.8 426C912 431.5 917 436 920.5 441.2C922.8 444.5 924.8 447.5 925.6 451.1C926.2 454.5 926.3 458 926.3 462" fill="none" stroke="#fff" stroke-width="2.5" stroke-linecap="butt"/>
<path class="s" style="stroke-width:1.7;stroke-linecap:butt" d="M896 410.3H908.4"/>
<rect x="875.6" y="461.4" width="4.6" height="18.8" fill="#dcdcdc" stroke="#000" stroke-width="1.7"/>
<rect x="924" y="461.4" width="4.6" height="18.8" fill="#fff" stroke="#000" stroke-width="1.7"/>
<text transform="translate(852.64 497.77) scale(0.963 1)" font-size="22" stroke="#000" stroke-width="0.35">N</text>
<text transform="translate(934.71 497.78) scale(0.963 1)" font-size="22" stroke="#000" stroke-width="0.35">L</text>
<text transform="translate(852.64 632.99) scale(0.963 1)" font-size="22" stroke="#000" stroke-width="0.35">N</text>
<text transform="translate(934.71 633.0) scale(0.963 1)" font-size="22" stroke="#000" stroke-width="0.35">L</text>
<path d="M878.1 606C878 610 878 614 878.5 617.25C879.3 621.5 881 625 883.3 628.75C886 633 889.5 636.5 892 640.25C894 643.3 895.6 646.5 896.75 649.8C897.8 652.8 898.6 655.8 899.3 659" fill="none" stroke="#000" stroke-width="5.9" stroke-linecap="butt"/><path d="M878.1 606C878 610 878 614 878.5 617.25C879.3 621.5 881 625 883.3 628.75C886 633 889.5 636.5 892 640.25C894 643.3 895.6 646.5 896.75 649.8C897.8 652.8 898.6 655.8 899.3 659" fill="none" stroke="#fff" stroke-width="2.2" stroke-linecap="butt"/>
<path d="M926 606C926 610 925.9 614 925.3 617.25C924.5 621.5 923 625 920.7 628.75C918 633 914.6 636.5 912.1 640.25C910.1 643.3 908.5 646.5 907.3 649.8C906.2 652.8 905.5 655.8 904.7 659" fill="none" stroke="#000" stroke-width="5.9" stroke-linecap="butt"/><path d="M926 606C926 610 925.9 614 925.3 617.25C924.5 621.5 923 625 920.7 628.75C918 633 914.6 636.5 912.1 640.25C910.1 643.3 908.5 646.5 907.3 649.8C906.2 652.8 905.5 655.8 904.7 659" fill="none" stroke="#fff" stroke-width="2.2" stroke-linecap="butt"/>
<rect class="w" style="stroke-width:1.9;stroke-linejoin:miter" x="896.6" y="659" width="11.2" height="85.6"/>
<path class="w" style="stroke-width:1.9;stroke-linejoin:miter" d="M865.9 504H896.1V549.5H908.25V504H938.7V607H908.25V561.6H896.1V607H865.9Z"/>
<circle class="w" style="stroke-width:1.6" cx="902.2" cy="555.3" r="2.7"/>
<circle class="s" style="stroke-width:1.8" cx="880.9" cy="537" r="11.7"/>
<circle class="s" style="stroke-width:1.8" cx="880.9" cy="537" r="8.7"/>
<rect class="k" x="879.1999999999999" y="530.8" width="3.4" height="12.4" rx="0.6"/>
<circle class="s" style="stroke-width:1.8" cx="923.4" cy="537" r="11.7"/>
<circle class="s" style="stroke-width:1.8" cx="923.4" cy="537" r="8.7"/>
<rect class="k" x="921.6999999999999" y="530.8" width="3.4" height="12.4" rx="0.6"/>
<circle class="s" style="stroke-width:1.8" cx="880.9" cy="573.4" r="11.7"/>
<circle class="s" style="stroke-width:1.8" cx="880.9" cy="573.4" r="8.7"/>
<rect class="k" x="879.1999999999999" y="567.1999999999999" width="3.4" height="12.4" rx="0.6"/>
<circle class="s" style="stroke-width:1.8" cx="923.4" cy="573.4" r="11.7"/>
<circle class="s" style="stroke-width:1.8" cx="923.4" cy="573.4" r="8.7"/>
<rect class="k" x="921.6999999999999" y="567.1999999999999" width="3.4" height="12.4" rx="0.6"/>
<circle class="s" style="stroke-width:1.7" cx="1041.2" cy="413.7" r="20.4"/>
<path class="s" style="stroke-width:1.7;stroke-linecap:butt" d="M1041.2 398.3V415.2M1024 415.2H1058M1028.5 419.5H1054M1032.5 423.7H1050"/>
<path d="M1057.2 447.8C1058 453 1059 458 1061 463C1063.5 468.5 1066.8 473 1070 478C1072.8 482 1075.4 485 1077 489C1078.3 492.5 1078.7 496 1078.8 500.5" fill="none" stroke="#000" stroke-width="6" stroke-linecap="butt"/><path d="M1057 445C1057.5 452 1059 458 1061 463C1063.5 468.5 1066.8 473 1070 478C1072.8 482 1075.4 485 1077 489C1078.3 492.5 1078.7 496 1078.8 500.5" fill="none" stroke="#fff" stroke-width="3" stroke-linecap="butt"/>
<rect x="1076.7" y="500.3" width="4.3" height="18.6" fill="#fff" stroke="#000" stroke-width="1.6"/>
<path class="w" style="stroke-width:2.1" d="M1025.5 589.6H1114.5C1117.5 589.6 1118.9 591.3 1118.9 594V662.5A48.9 48.9 0 0 1 1021.1 662.5V594C1021.1 591.3 1022.5 589.6 1025.5 589.6Z"/>
<path class="s" style="stroke-width:2.6" d="M1024.5 589.4H1115.5"/>
<path class="s" style="stroke-width:1.2" d="M1022 592.9H1118"/>
<circle class="w" style="stroke-width:2" cx="1070" cy="665.6" r="30"/>
<circle class="s" style="stroke-width:1.7" cx="1045.8" cy="613.9" r="12"/><circle class="s" style="stroke-width:1.4" cx="1045.8" cy="613.9" r="10"/>
<path class="s" style="stroke-width:1.4;stroke-linecap:butt" d="M1045.8 606V614.8M1037.8 615H1053.9M1040 617.8H1051.7M1042.2 620.2H1049.5"/>
<rect class="w" style="stroke-width:2.1;stroke-linejoin:miter" x="1037.8" y="542.8" width="6.1" height="22.2"/>
<rect class="w" style="stroke-width:2.1;stroke-linejoin:miter" x="1096.1" y="542.8" width="6.1" height="22.2"/>
<rect class="w" style="stroke-width:2.1;stroke-linejoin:miter" x="1043.9" y="531.7" width="52.2" height="57.2"/>
<path class="s" style="stroke-width:1.3;stroke-linecap:butt" d="M1045 576.4H1095"/>
<rect class="k" x="1045" y="578.3" width="50" height="3.4"/><rect class="k" x="1045" y="583.3" width="50" height="3"/>
<path class="s" style="stroke-width:1.2;stroke-linecap:butt" d="M1070 529.5V577M1044.5 553.3H1095.5"/>
<circle class="w" style="stroke-width:2" cx="1070" cy="553.3" r="23.4" fill-opacity="0"/>
<circle class="s" style="stroke-width:1.3" cx="1070" cy="553.3" r="21.6"/>
<circle class="w" style="stroke-width:2.2" cx="1070" cy="553.3" r="14.3"/>
<circle class="s" style="stroke-width:1.5" cx="1070" cy="553.3" r="11.9"/>
<path class="w" style="stroke-width:1.5;stroke-linejoin:miter" d="M1068.6 545.3H1071.4V551.9H1078.2V554.7H1071.4V561.6H1068.6V554.7H1061.8V551.9H1068.6Z"/>
</g>
<!--SECTION_3-->
<g id="sec3">
<circle class="s" style="stroke-width:1.7" cx="153.45" cy="963.9" r="37"/>
<text transform="translate(135.4 988.24) scale(1.03 1)" font-size="70">3</text>
<g id="wall">
<path class="w" style="stroke-width:2.25" d="M760.6 922.0L779.3 917.4L941.9 996.2V1434.6L923.25 1438.5V1000.3Z"/>
<path class="w" style="stroke-width:2.25" d="M760.6 922.0L923.25 1000.3V1438.5L760.6 1360.2Z"/>
<path class="s" style="stroke-width:2.25" d="M923.25 1000.3L941.9 996.2"/>
<path class="s" style="stroke-width:1.9" d="M760.6 977.9L923.25 1056.2"/>
<path class="s" style="stroke-width:1.9" d="M760.6 1032.9L923.25 1111.2"/>
<path class="s" style="stroke-width:1.9" d="M760.6 1087.9L923.25 1166.2"/>
<path class="s" style="stroke-width:1.9" d="M760.6 1142.9L923.25 1221.2"/>
<path class="s" style="stroke-width:1.9" d="M760.6 1197.9L923.25 1276.2"/>
<path class="s" style="stroke-width:1.9" d="M760.6 1252.9L923.25 1331.2"/>
<path class="s" style="stroke-width:1.9" d="M760.6 1307.3L923.25 1385.6"/>
<path class="s" style="stroke-width:1.9" d="M841.1 960.8V1016.7"/>
<path class="s" style="stroke-width:1.9" d="M801.7 997.7V1052.7"/>
<path class="s" style="stroke-width:1.9" d="M881.5 1036.1V1091.1"/>
<path class="s" style="stroke-width:1.9" d="M841.1 1071.7V1126.7"/>
<path class="s" style="stroke-width:1.9" d="M801.7 1107.7V1162.7"/>
<path class="s" style="stroke-width:1.9" d="M881.5 1146.1V1201.1"/>
<path class="s" style="stroke-width:1.9" d="M841.1 1181.7V1236.7"/>
<path class="s" style="stroke-width:1.9" d="M801.7 1217.7V1272.7"/>
<path class="s" style="stroke-width:1.9" d="M881.5 1256.1V1311.1"/>
<path class="s" style="stroke-width:1.9" d="M841.1 1291.7V1346.1"/>
<path class="s" style="stroke-width:1.9" d="M801.7 1327.1V1379.5"/>
<path class="s" style="stroke-width:1.9" d="M881.5 1365.5V1417.9"/>
<path class="w" style="stroke-width:2.4" d="M943 1061.3H948.5C952.5 1062.0 954.6 1067.5 954.3 1071.0C954 1075.5 950 1078.5 943 1079.7Z"/>
<path class="k" d="M943.4 1063.0C947.5 1064.5 949 1069.5 948.6 1072.5C948.3 1075.5 946.5 1077.5 943.4 1078.5Z"/>
<path class="w" style="stroke-width:2.4" d="M943 1226.1H948.5C952.5 1226.8 954.6 1232.3 954.3 1235.8C954 1240.3 950 1243.3 943 1244.5Z"/>
<path class="k" d="M943.4 1227.8C947.5 1229.3 949 1234.3 948.6 1237.3C948.3 1240.3 946.5 1242.3 943.4 1243.3Z"/>
</g>
<path class="s" style="stroke-width:2.1" d="M668.3 1066.7L778.6 1045.6M699.2 1337.5L788.5 1319.2"/>
<g id="wbr">
<path class="w" style="stroke-width:2.2" d="M778.4 1043C778 1039.5 781 1036 786.7 1034.75L818 1028.9C820 1028.4 822 1028.3 824 1029.2L860 1047C862.5 1048.3 863.6 1050 863.6 1053V1300C863.6 1306 862.5 1309 858 1311.2L812 1322.6C809 1323.2 806 1323 803 1322L783 1312.5C779.5 1310.8 778 1308.8 778.4 1306.5C778.8 1303 781.5 1301 786.7 1300L823.9 1293.7V1058.6L806 1057.3C802.5 1057.2 800 1056.8 797.7 1055.8L781 1047C779 1046 778.5 1044.5 778.4 1043Z"/>
<path class="s" style="stroke-width:2.2" d="M823.9 1058.6L858.2 1049.6C859.6 1049.4 860.4 1050.3 860.4 1052V1299C860.4 1304 859 1307.5 855 1308.8"/>
<path d="M864.4 1054V1300" stroke="#999" stroke-width="1.3" fill="none"/>
<path class="s" style="stroke-width:1.4" d="M780 1045.6L797 1054.2C800 1055.4 803 1055.7 806 1055.5L857 1047.5"/>
<path class="s" style="stroke-width:1.6" d="M787.5 1044.8L818.5 1039.6"/>
<ellipse cx="820.8" cy="1041.2" rx="7" ry="2.8" fill="#000"/><ellipse cx="822.5" cy="1041.4" rx="2.6" ry="1" fill="#555"/>
<path class="s" style="stroke-width:2.2" d="M823.9 1293.7L858.5 1310.8"/>
<path class="s" style="stroke-width:1.5" d="M823.9 1290L860 1307.3"/>
<path class="s" style="stroke-width:1.4" d="M780.3 1308.5L797 1317.8C801 1319.8 805 1320.6 810.5 1320.3L852.7 1313.2C856 1312.4 858 1311 860 1308.8"/>
<ellipse cx="820.6" cy="1306.5" rx="7.3" ry="2.8" fill="#000"/><ellipse cx="820.6" cy="1306.5" rx="2.6" ry="0.9" fill="#555"/>
<g transform="rotate(-16 842 1089.75)"><ellipse cx="843" cy="1089.75" rx="9.6" ry="14.4" fill="#000" stroke="#000" stroke-width="2.4"/><ellipse cx="841.2" cy="1089.35" rx="7.6" ry="12.4" fill="#fff" stroke="none"/><ellipse cx="839.6" cy="1089.35" rx="5.4" ry="9.8" fill="#fff" stroke="#000" stroke-width="2.2"/><path d="M839.6 1082.95V1095.95M836.2 1088.55L843 1090.75" stroke="#000" stroke-width="3.2" stroke-linecap="round" fill="none"/></g>
<g transform="rotate(-16 842 1254.25)"><ellipse cx="843" cy="1254.25" rx="9.6" ry="14.4" fill="#000" stroke="#000" stroke-width="2.4"/><ellipse cx="841.2" cy="1253.85" rx="7.6" ry="12.4" fill="#fff" stroke="none"/><ellipse cx="839.6" cy="1253.85" rx="5.4" ry="9.8" fill="#fff" stroke="#000" stroke-width="2.2"/><path d="M839.6 1247.45V1260.45M836.2 1253.05L843 1255.25" stroke="#000" stroke-width="3.2" stroke-linecap="round" fill="none"/></g>
</g>
<g id="box">
<path fill="#fff" stroke="none" d="M615.8 1048.3L627.5 1046.7L698.3 1080.8V1365.3L641.7 1375.3C636 1375.3 631 1373 629.2 1368.3V1086.7L615.8 1080Z"/>
<path class="s" style="stroke-width:2.25" d="M615.2 1049.4C619 1047.8 623.5 1046.2 628 1046.8L698.3 1080.8V1365.3L641.7 1375.3C636 1375.3 630.5 1373 628.3 1367"/>
<path class="s" style="stroke-width:2.25" d="M698.3 1080.8L641.7 1092.5V1375.3M641.7 1092.5L629.2 1086.7M641.7 1092.5C636 1094 632 1096 630 1099.5"/>
<ellipse class="w" style="stroke-width:2" cx="637.6" cy="1069.4" rx="8.2" ry="3"/>
</g>
<g id="cyl">
<path class="w" style="stroke-width:1.9" d="M254.9 1071.5V1426.3A187.05 57.0 0 0 0 629.0 1426.3V1071.5Z"/>
<ellipse class="w" style="stroke-width:2.5" cx="441.4" cy="1071.5" rx="186.2" ry="57.0"/>
<ellipse class="s" style="stroke-width:2.6" cx="441.9" cy="1071.3" rx="170.9" ry="51.9"/>
</g>
<g id="tscrew">
<path class="s" style="stroke-width:2.6;stroke-linecap:butt" d="M637.3 1036V1069.6"/>
<rect class="k" x="628.3" y="1009" width="18.7" height="28.5" rx="2.6"/>
<path class="w" style="stroke-width:2.5" d="M621.6 1002.5C621.6 995.5 628.5 991.9 637.5 991.9C646.5 991.9 653.5 995.5 653.5 1002.5V1007C653.5 1010.5 646.5 1012.4 637.5 1012.4C628.5 1012.4 621.6 1010.5 621.6 1007Z"/>
<path class="s" style="stroke-width:2" d="M621.8 1003.5C624 1007 630 1008.3 637.5 1008.3C645 1008.3 651 1007 653.3 1003.5"/>
<ellipse cx="637.3" cy="996.6" rx="9.6" ry="3.3" fill="#000"/><ellipse cx="637.3" cy="996.8" rx="5" ry="1.1" fill="#555"/>
</g>
<g id="bscrew">
<path class="s" style="stroke-width:2.4;stroke-linecap:butt" d="M637.3 1376V1388"/>
<path class="w" style="stroke-width:1.8" d="M629.5 1420V1424C629.5 1428 635 1430.3 641.5 1430.3C648 1430.3 653.6 1428 653.6 1424V1417.5C653.6 1414 648 1411.3 641.5 1411.3"/>
<path class="s" style="stroke-width:1.5" d="M629.5 1420C630.5 1423.3 635.5 1425 641.5 1425C648 1425 653 1422.5 653.6 1418.5"/>
<rect class="k" x="629.2" y="1386.5" width="17.5" height="31.5" rx="2"/>
<ellipse cx="638" cy="1389.3" rx="6.3" ry="1.9" fill="none" stroke="#ddd" stroke-width="1"/>
</g>
<path class="s" style="stroke-width:1.9" d="M629.0 1376V1426.3"/>
</g>
<!--SECTION_C-->
</svg>
</body></html>
